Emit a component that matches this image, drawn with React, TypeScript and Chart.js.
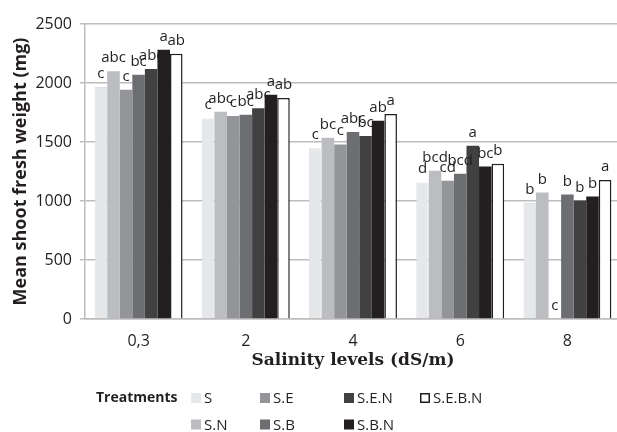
import React, { useEffect, useRef } from "react";
import { Chart, registerables } from "chart.js";

Chart.register(...registerables);

const categories = ["0,3", "2", "4", "6", "8"];
const treatments = ["S", "S.N", "S.E", "S.B", "S.E.N", "S.B.N", "S.E.B.N"];

const sValues = [1966, 1700, 1448, 1157, 982];
const snValues = [2099, 1756, 1536, 1256, 1072];
const seValues = [1943, 1720, 1479, 1171, 0];
const sbValues = [2070, 1731, 1584, 1230, 1055];
const senValues = [2118, 1785, 1550, 1468, 1004];
const sbnValues = [2282, 1901, 1680, 1292, 1038];
const sebnValues = [2248, 1873, 1737, 1315, 1179];

const sLetters = ["c", "c", "c", "d", "b"];
const snLetters = ["abc", "abc", "bc", "bcd", "b"];
const seLetters = ["c", "c", "c", "cd", "c"];
const sbLetters = ["bc", "bc", "abc", "bcd", "b"];
const senLetters = ["abc", "abc", "bc", "a", "b"];
const sbnLetters = ["a", "a", "ab", "bc", "b"];
const sebnLetters = ["ab", "ab", "a", "b", "a"];

const yTicks = [0, 500, 1000, 1500, 2000, 2500];

const seriesValues = [sValues, snValues, seValues, sbValues, senValues, sbnValues, sebnValues];
const seriesLetters = [sLetters, snLetters, seLetters, sbLetters, senLetters, sbnLetters, sebnLetters];
const fills = ["#e6e7e9", "#bcbdc0", "#949598", "#6d6e71", "#414142", "#231f20", "#ffffff"];
const borders = ["#dce2ec", "#bcbdc0", "#949598", "#6d6e71", "#414142", "#231f20", "#231f20"];
const borderWidths = [1, 0, 0, 0, 0, 0, 1.5];

const TEXT = "#231f20";
const GRID = "#bdbdbd";

const labelPlugin = {
  id: "letters",
  afterDatasetsDraw(chart: any) {
    const ctx = chart.ctx;
    ctx.save();
    ctx.font = "15px 'Open Sans'";
    ctx.fillStyle = TEXT;
    ctx.textAlign = "center";
    ctx.textBaseline = "alphabetic";
    chart.data.datasets.forEach((ds: any, i: number) => {
      const meta = chart.getDatasetMeta(i);
      meta.data.forEach((el: any, j: number) => {
        const t = seriesLetters[i][j];
        if (t) ctx.fillText(t, el.x, el.y - 9);
      });
    });
    ctx.restore();
  },
};

const legendPlugin = {
  id: "customLegend",
  afterDraw(chart: any) {
    const ctx = chart.ctx;
    ctx.save();
    ctx.fillStyle = TEXT;
    ctx.textBaseline = "middle";
    ctx.textAlign = "left";
    ctx.font = "bold 14px 'Open Sans'";
    ctx.fillText("Treatments", 96, 398);
    const colX = [191, 260, 344, 420];
    const rowY = [398, 424.5];
    ctx.font = "15px 'Open Sans'";
    treatments.forEach((name, k) => {
      const x = colX[Math.floor(k / 2)];
      const y = rowY[k % 2];
      ctx.fillStyle = fills[k];
      ctx.fillRect(x, y - 5, 10, 10);
      if (k === 6) {
        ctx.strokeStyle = TEXT;
        ctx.lineWidth = 1.5;
        ctx.strokeRect(x + 0.75, y - 4.25, 8.5, 8.5);
      }
      ctx.fillStyle = TEXT;
      ctx.fillText(name, x + 13, y + 1);
    });
    ctx.restore();
  },
};

export default function App() {
  const ref = useRef<HTMLCanvasElement>(null);
  useEffect(() => {
    if (!ref.current) return;
    const chart = new Chart(ref.current, {
      type: "bar",
      data: {
        labels: categories,
        datasets: treatments.map((name, i) => ({
          label: name,
          data: seriesValues[i],
          backgroundColor: fills[i],
          borderColor: borders[i],
          borderWidth: borderWidths[i],
          categoryPercentage: 0.82,
          barPercentage: 1,
        })),
      },
      options: {
        animation: false,
        responsive: false,
        maintainAspectRatio: false,
        layout: { padding: { top: 24, left: 0, right: 0, bottom: 0 } },
        plugins: {
          legend: { display: false },
          tooltip: { enabled: false },
          title: { display: false },
        },
        scales: {
          x: {
            grid: { display: false, drawTicks: false },
            border: { display: true, color: GRID, width: 1.5 },
            ticks: {
              color: TEXT,
              font: { family: "'Open Sans'", size: 16 },
              padding: 13,
            },
            title: {
              display: true,
              text: "Salinity levels (dS/m)",
              color: TEXT,
              font: { family: "'DejaVu Serif'", size: 17, weight: "bold" },
              padding: { top: 0, bottom: 61 },
            },
            afterFit(scale: any) {
              scale.height = 113;
            },
          },
          y: {
            min: 0,
            max: 2500,
            afterBuildTicks(scale: any) {
              scale.ticks = yTicks.map((v) => ({ value: v }));
            },
            grid: { color: GRID, lineWidth: 1.5, drawTicks: true, tickLength: 5, tickColor: GRID },
            border: { display: true, color: GRID, width: 1.5 },
            ticks: {
              color: TEXT,
              font: { family: "'Open Sans'", size: 16 },
              padding: 8,
              callback: (v: any) => String(v),
            },
            title: {
              display: true,
              text: "Mean shoot fresh weight (mg)",
              color: TEXT,
              font: { family: "'Open Sans'", size: 18, weight: "bold" },
              padding: { top: 10, bottom: 0 },
            },
            afterFit(scale: any) {
              scale.width = 85;
            },
          },
        },
      },
      plugins: [labelPlugin, legendPlugin],
    });
    return () => chart.destroy();
  }, []);
  return (
    <div style={{ position: "fixed", left: 0, top: 0, width: 617, height: 432, overflow: "hidden", background: "#fff" }}>
      <canvas ref={ref} width={621} height={432} style={{ display: "block", width: 621, height: 432 }} />
    </div>
  );
}
